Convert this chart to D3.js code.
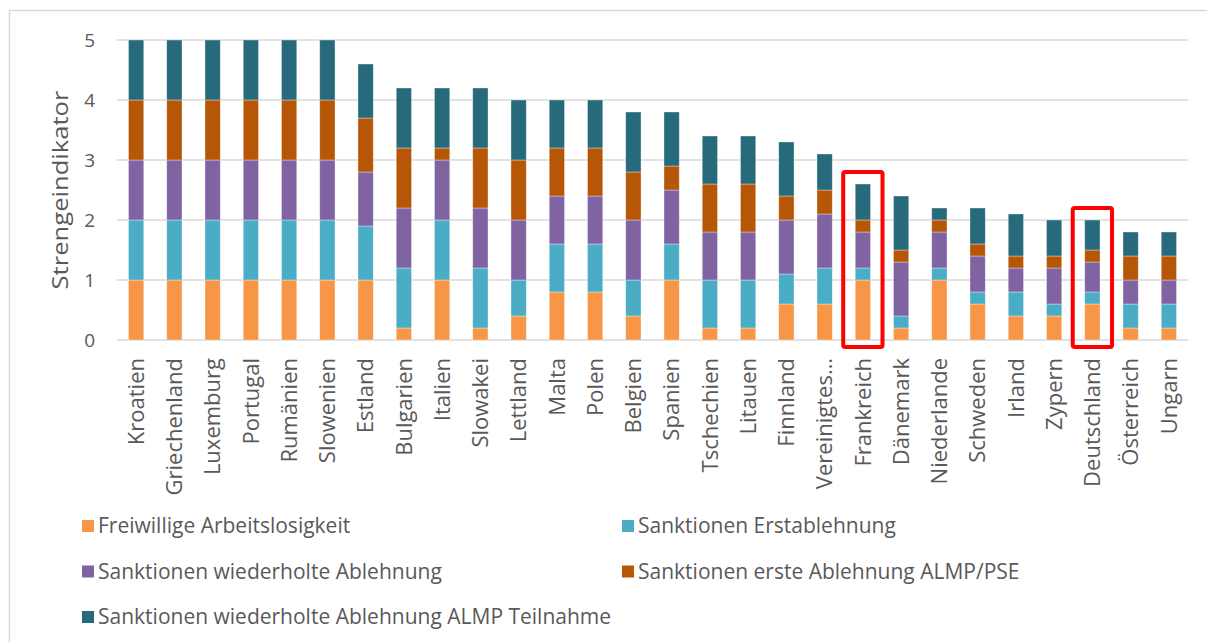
<!DOCTYPE html>
<html>
<head>
<meta charset="utf-8">
<script src="https://cdn.jsdelivr.net/npm/d3@7"></script>
<style>
  body { margin: 0; background: #fff; }
  text { font-family: "Open Sans", sans-serif; fill: #595959; }
</style>
</head>
<body>
<svg id="chart" width="1207" height="642"></svg>
<script>
// Länder (Reihenfolge wie im Original)
var laender = ["Kroatien", "Griechenland", "Luxemburg", "Portugal", "Rumänien", "Slowenien", "Estland",
  "Bulgarien", "Italien", "Slowakei", "Lettland", "Malta", "Polen", "Belgien", "Spanien", "Tschechien",
  "Litauen", "Finnland", "Vereinigtes…", "Frankreich", "Dänemark", "Niederlande", "Schweden", "Irland",
  "Zypern", "Deutschland", "Österreich", "Ungarn"];

// Werte je Komponente
var freiwillig    = [1, 1, 1, 1, 1, 1, 1,   0.2, 1,   0.2, 0.4, 0.8, 0.8, 0.4, 1,   0.2, 0.2, 0.6, 0.6, 1,   0.2, 1,   0.6, 0.4, 0.4, 0.6, 0.2, 0.2];
var erstablehnung = [1, 1, 1, 1, 1, 1, 0.9, 1,   1,   1,   0.6, 0.8, 0.8, 0.6, 0.6, 0.8, 0.8, 0.5, 0.6, 0.2, 0.2, 0.2, 0.2, 0.4, 0.2, 0.2, 0.4, 0.4];
var wiederholt    = [1, 1, 1, 1, 1, 1, 0.9, 1,   1,   1,   1,   0.8, 0.8, 1,   0.9, 0.8, 0.8, 0.9, 0.9, 0.6, 0.9, 0.6, 0.6, 0.4, 0.6, 0.5, 0.4, 0.4];
var almpErste     = [1, 1, 1, 1, 1, 1, 0.9, 1,   0.2, 1,   1,   0.8, 0.8, 0.8, 0.4, 0.8, 0.8, 0.4, 0.4, 0.2, 0.2, 0.2, 0.2, 0.2, 0.2, 0.2, 0.4, 0.4];
var almpTeilnahme = [1, 1, 1, 1, 1, 1, 0.9, 1,   1,   1,   1,   0.8, 0.8, 1,   0.9, 0.8, 0.8, 0.9, 0.6, 0.6, 0.9, 0.2, 0.6, 0.7, 0.6, 0.5, 0.4, 0.4];

var serienNamen = ["Freiwillige Arbeitslosigkeit", "Sanktionen Erstablehnung", "Sanktionen wiederholte Ablehnung",
  "Sanktionen erste Ablehnung ALMP/PSE", "Sanktionen wiederholte Ablehnung ALMP Teilnahme"];
var farben = ["#F79646", "#4BACC6", "#8064A2", "#B65708", "#276A7C"];
var yTicks = [0, 1, 2, 3, 4, 5];
var markiert = ["Frankreich", "Deutschland"];

var serien = [freiwillig, erstablehnung, wiederholt, almpErste, almpTeilnahme];

var svg = d3.select("#chart");

// Rahmen des Diagramms
svg.append("rect")
  .attr("x", 9.5).attr("y", 10.5)
  .attr("width", 1250).attr("height", 700)
  .attr("fill", "none").attr("stroke", "#d9d9d9").attr("stroke-width", 1.5);

var x = d3.scaleBand().domain(laender).range([117, 1188]).paddingInner(0.6).paddingOuter(0.3);
var y = d3.scaleLinear().domain([0, 5]).range([340, 40]);

// Gitterlinien
svg.append("g").selectAll("line")
  .data(yTicks)
  .enter().append("line")
  .attr("x1", 117).attr("x2", 1188)
  .attr("y1", function(d){ return y(d); })
  .attr("y2", function(d){ return y(d); })
  .attr("stroke", "#d9d9d9").attr("stroke-width", 1.5);

// Y-Achse
var yAxis = svg.append("g")
  .attr("transform", "translate(95,0)")
  .call(d3.axisLeft(y).tickValues(yTicks).tickFormat(d3.format("d")).tickSize(0).tickPadding(0));
yAxis.select(".domain").remove();
yAxis.selectAll("text").style("font-size", "19px").attr("fill", "#595959").attr("dy", "0.35em")
  .style("font-family", "'Open Sans', sans-serif");

svg.append("text")
  .attr("transform", "translate(68,190) rotate(-90) scale(1.22,1)")
  .attr("text-anchor", "middle")
  .style("font-size", "21px")
  .text("Strengeindikator");

// Stapel
var tabelle = laender.map(function(l, i){
  var o = { land: l };
  serien.forEach(function(s, k){ o["s" + k] = s[i]; });
  return o;
});
var stack = d3.stack().keys(["s0", "s1", "s2", "s3", "s4"]);
var gestapelt = stack(tabelle);

svg.append("g").selectAll("g")
  .data(gestapelt)
  .enter().append("g")
  .attr("fill", function(d, i){ return farben[i]; })
  .selectAll("rect")
  .data(function(d){ return d; })
  .enter().append("rect")
  .attr("x", function(d){ return x(d.data.land); })
  .attr("width", x.bandwidth())
  .attr("y", function(d){ return y(d[1]); })
  .attr("height", function(d){ return y(d[0]) - y(d[1]); })
  .attr("stroke", "rgba(255,255,255,0.5)")
  .attr("stroke-width", 0.7);

// X-Achse Beschriftung
var xAxis = svg.append("g")
  .attr("transform", "translate(0,340)")
  .call(d3.axisBottom(x).tickSize(0).tickPadding(0));
xAxis.select(".domain").remove();
xAxis.selectAll("text")
  .attr("transform", "rotate(-90)")
  .attr("x", -18).attr("y", 0).attr("dy", "0.35em")
  .attr("text-anchor", "end")
  .attr("fill", "#595959")
  .style("font-size", "22px")
  .style("font-family", "'Open Sans', sans-serif");

// Rote Markierungen
var summe = function(l){
  var i = laender.indexOf(l);
  return d3.sum(serien, function(s){ return s[i]; });
};
svg.append("g").selectAll("rect")
  .data(markiert)
  .enter().append("rect")
  .attr("x", function(d){ return x(d) - 12; })
  .attr("width", x.bandwidth() + 24)
  .attr("y", function(d){ return y(summe(d) + 0.2); })
  .attr("height", function(d){ return 347 - y(summe(d) + 0.2); })
  .attr("rx", 2)
  .attr("fill", "none").attr("stroke", "#ff0000").attr("stroke-width", 4);

// Legende
var legende = svg.append("g").selectAll("g")
  .data(serienNamen)
  .enter().append("g")
  .attr("transform", function(d, i){
    return "translate(" + (i % 2 === 0 ? 82 : 622) + "," + (520 + Math.floor(i / 2) * 45.5) + ")";
  });
legende.append("rect")
  .attr("width", 12).attr("height", 12)
  .attr("fill", function(d, i){ return farben[i]; });
legende.append("text")
  .attr("x", 16).attr("y", 6).attr("dy", "0.35em")
  .style("font-size", "21px")
  .text(function(d){ return d; });
</script>
</body>
</html>
